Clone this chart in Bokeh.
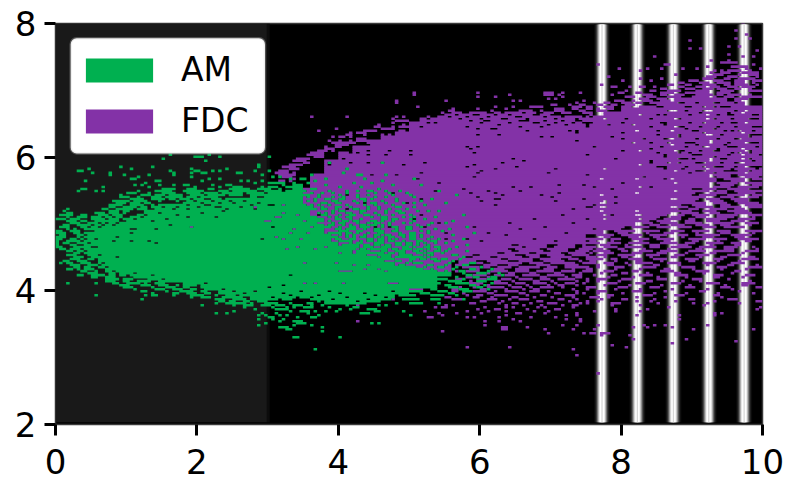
from bokeh.plotting import figure
from bokeh.embed import file_html
from bokeh.resources import INLINE
from bokeh.models import Legend, LegendItem, BoxAnnotation, FixedTicker, Range1d, ColumnDataSource

x_ticks = [0, 2, 4, 6, 8, 10]
y_ticks = [2, 4, 6, 8]
series_names = ["AM", "FDC"]
series_colors = ["#00B050", "#8332A7"]

# histogram bins: x = col * 0.05, y = 2 + row * 0.03
col_w = 0.05
row_h = 0.03

stripe_centers = [7.73, 8.23, 8.74, 9.24, 9.74]
stripe_half = [0.113, 0.099, 0.085, 0.071, 0.057, 0.042, 0.028, 0.009]
stripe_gray = ["#0a0a0a", "#1c1c1c", "#3c3c3c", "#757575", "#b4b4b4", "#ececec", "#ffffff", "#d6d6d6"]

# solid core: column station -> lowest / highest row
am_cols = [8, 10, 12, 14, 17, 20, 22, 25, 27, 31, 36, 41, 46, 50, 55, 60, 63, 65, 67, 68, 70, 72, 74, 76, 78, 80, 84, 88, 92, 96, 100, 104, 108]
am_low = [85, 83, 80, 78, 75, 74, 73, 73, 73, 71, 69, 67, 64, 64, 62, 62, 62, 62, 63, 63, 63, 62, 61, 60, 60, 60, 60, 61, 62, 64, 66, 68, 74]
am_high = [95, 97, 98, 101, 103, 103, 104, 106, 109, 109, 112, 113, 112, 112, 114, 115, 115, 116, 118, 119, 108, 103, 99, 94, 90, 88, 85, 82, 80, 78, 77, 76, 75]
fdc_cols = [66, 68, 72, 76, 80, 84, 88, 92, 96, 100, 104, 108, 112, 116, 120, 130, 140, 150, 155, 160, 165, 170, 175, 180, 185, 190, 195]
fdc_low = [75, 70, 70, 70, 70, 70, 70, 70, 70, 70, 72, 76, 82, 90, 90, 90, 90, 95, 97, 100, 103, 106, 110, 118, 125, 125, 125]
fdc_high = [110, 117, 124, 131, 135, 138, 141, 144, 146, 149, 151, 153, 154, 154, 154, 154, 153, 153, 155, 157, 158, 160, 162, 165, 162, 160, 158]

# scattered cells of each series, by row: "col col first-last"
am_strays = {
    134: "32 43", 133: "39-41 46 60", 132: "30", 131: "42", 129: "57", 128: "18 27 57", 127: "9 21 38 48",
    126: "6-7 32 39-40 44 46 56 60", 125: "10 15 33 38 41-42 51-52", 124: "15 19 26 33 58", 123: "23 38 61 63",
    122: "21-22 43 46 66", 121: "8 28-29 41 52 54 58", 120: "25 56 60-64 67", 119: "22 24 29 33 36 37 44 48-49 64",
    118: "13 26 39 46 50-52 58 60-62 65", 117: "7-8 30-33 37-39 43-44 49-54 57-60 63", 116: "6 11 13 23 28-32 36-41 46-48 50-56 59-63",
    115: "20-22 26 30-33 37-40 42-45 47-52 54-58 61", 114: "18 24-26 28-30 32-35 38-41 43-47 49-52", 113: "18-20 23 27-29 31-35 37-39",
    112: "21-24 27-30 32-33 35", 111: "16-20 22-25 29 34", 110: "17-19 21-23 25-26", 109: "15-18 21-24", 108: "15-16 19-22 24-25",
    107: "3 13-14 17-21 23-25", 106: "2 15-17 19-20", 105: "3-4 11-13 15-17 19", 104: "1-4 7-8 12-14 16-18",
    103: "3 6-8 10-12 14-15", 102: "0-2 4-6 10-13 15-16", 101: "3-5 7-8 11-13 16", 100: "4-6 9-11 13-15", 99: "2-3 6-9 11-12", 98: "1-3 7-8 10-11",
    97: "3 5 8-9 11-12", 96: "0-1 4-6", 95: "0-2 5-6", 94: "1-2 6-7", 93: "0-2 6", 92: "0-1 4-5 7", 91: "0 3-6", 90: "0 2-3 6-7",
    89: "0 4-5", 88: "0-1 5-7", 87: "1-2 4-6", 86: "3-4 6-7", 85: "5-6 8-10", 84: "3-5 9-13", 83: "5-7 10-12",
    82: "4-6 9-10", 81: "2-3 6-8 12", 80: "1 3-4 7-9", 79: "4-6 9-11 13-16", 78: "5-6 8-9 12-15",
    77: "3-4 6 8-10 14-16", 76: "7-8 11 14-16", 75: "9-11 15-16", 74: "6-7 10-13 15-16 18-19", 73: "10-11 14-16",
    72: "14-17 19-21 26-30", 71: "14-16 19-20 23-26 29-32", 70: "3 11 16-17 20-23 25 28-30 36-38",
    69: "18-20 24-26 29-31 34-37 40", 68: "19-21 27 31-33 36-38 42-44", 67: "22 28-30 33-35 38-39 42-45",
    66: "24-25 31 35-38 41-43 46-49", 65: "27 33-34 37-39 42-43 47-51 53", 64: "11 25 27-28 33 38-41 45-46 49-54",
    63: "38 41-43 47-52 55-59", 62: "24 45-47 50-53 56-61", 61: "46-47 49-50 53-54 57-59", 60: "45 48-53 55 59-62 66 71-72 79 85-87 96",
    59: "41 50 53-55 58-60 62-64 67-69 72 75 82 91 93", 58: "53 61 65 67 70-72 77 84-85", 57: "56 62-65 80 83 88-90", 56: "50 66 69-71 73 76 79 90-91 98",
    55: "45 48 58 62 71 86-88", 54: "57 59 63 65 74 100", 53: "60-61 68 72-73", 52: "57 61 64", 51: "63 67-69",
    50: "59 68-70 89 91", 49: "57 67 72", 48: "63-65 75", 47: "65 66", 46: "75", 43: "67-68 80", 37: "73",
}
fdc_strays = {
    200: "194", 196: "192", 194: "195", 192: "192 196", 191: "179", 188: "190 193", 187: "179 182", 186: "198",
    184: "190", 183: "169 194 197", 181: "185 190", 180: "188-192", 179: "153 172-173 197", 178: "184 191-195",
    177: "159 167 171 177 181 195 199", 176: "165 186 188 190-193 196", 175: "185 188-190 194-198", 174: "175 186-188 193 196-198",
    173: "156 184-186 190-192 198", 172: "165 171 183-185 189-190 193-197", 171: "160 168 179-181 186-188 192-194 197-199",
    170: "176-177 182-184 187-190 192-194 197", 169: "154 173-174 178-179 183-186 189-190 192-195 198", 168: "157-158 162 165-166 169 176-177 181-183 185-187 190-192 194-197",
    167: "171-172 178-180 183-185 187-189 192-193 196", 166: "161 168-169 173-176 181-184 188-191 196-199", 165: "101 119 138-140 143 148 159-160 164-165 171-174 178-180 183-184 187-190",
    164: "101 128 138-140 142 157 166-168 171-172 175-177 183-185 187-188 190-193 196", 163: "119 124 143 161-163 167-169 173-176 186 189-191 194-199",
    162: "139 141 165-167 170-172 175-176 179-180 188-189 192-195", 161: "96 110 129 131 149 158-160 163 166-168 171-173 187-189 192-193",
    160: "96 147 152 155-156 160-162 164-165 168-169 171-172 174",
    159: "140-141 145 148-149 153-154 157-158 161-163", 158: "102 124 129 134-137 146-148 150-151 155-157 160-162", 157: "112 119 127 141-143 146-147 150-151 153 156-157",
    156: "111-112 123 131-134 137 141-143 148-149 153-155", 155: "109 112-114 117-121 124-125 127-131 133-135 138-140 143-145 149-151",
    154: "110-111 151", 153: "72 82 96 98 105 109-111",
    152: "95 103-104 106-107",151: "96-99 103", 150: "95 100-103", 149: "91 98", 148: "90-91 95 97-99", 147: "79 92 93-95",
    146: "74 87-90", 145: "83 85-87", 144: "87 82-83", 143: "78 83 80-81", 142: "85-87", 141: "77 80 83 85-87", 140: "78-84",
    139: "79-82", 138: "76 79-80", 137: "76 77-78", 136: "78 74-76", 135: "72-75", 134: "71-74 75", 133: "73-75", 132: "68-71",
    131: "67-70", 130: "70-71", 129: "66-69", 128: "64-67", 127: "66-68", 126: "63-65", 125: "62-65 67", 124: "63-67 186-190 193-199", 123: "64-66 187-190 195-198",
    122: "66-67 181-186 189-194 197-199", 121: "63-64 66 183-186 191-194", 120: "178-184 187-192 195-199", 119: "178-182 188-191 197-199", 118: "176-183 186-190 193-198",
    117: "174-178 183-186 190-195", 116: "172-176 180-184 187-189 192-199", 115: "176-180 185-189 193-197", 114: "175-179 182-186 190-194 197-199", 113: "172-175 179-183 188-191 196-198",
    112: "170-173 177-181 184-187 191-195", 111: "170-172 177-180 185-188 192-195",
    110: "173-176 179-183 186-189 193-198", 109: "174-176 180-183 188-190 195-199", 108: "176-178 181-185 188-193 196-199", 107: "172-175 179-181 185-189 192-194", 106: "174-179 183-186 190-195",
    105: "170-173 177-181 185-187 192-196", 104: "168-172 175-177 180-184 187-192 196-199", 103: "167-170 174-176 181-183 187-191 197", 102: "166-169 172-176 179-180 184-189 193-197",
    101: "165-167 170-173 178-180 184-187 191-194", 100: "163-168 171-175 178-182 186-191 195-198", 99: "160-163 168-170 174-177 181-184 188-190 196",
    98: "157-160 163-167 170-173 176-179 183-186 189-194", 96: "158-163 166-170 174-177 180-184 187-190 195-199", 95: "153 159-161 167 172-174 181 188-190 197",
    94: "153-157 160-165 168-172 176-178 181-187 191-196", 93: "155-156 162-164 169-170 177 183-185 192-194", 92: "150-154 157-159 163-167 170-174 179-183 186-189 193-198",
    91: "151-152 157 165 172-173 180-181 187 195-196",
    90: "114-132 134-140 143-147 150-153 156-159 162-167 171-175 178-180 184-188 191-193", 89: "113-128 131-138 142-146 149 154-156 161 168-170 176-178 185 192-193", 88: "113-131 133-138 141-146 149-152 155-158 161-165 168-170 174-179 182-186 189-192 197",
    87: "115-127 130-136 139-144 148-151 153-154 159-160 166 173 181-182 189-191 198", 86: "114-128 131-137 140-144 147-150 152-156 160-161 165-168 171-175 179-183 186-191 195-198", 85: "112-124 127-133 136-142 145-149 151 155-157 163-165 170-172 178 185-186 194",
    84: "112-117 120-129 133-136 139-143 146-150 153-155 159-163 167-170 175-177 181-184 190-193", 83: "111-115 118-122 125-131 134-136 140-145 150-152 155 160-161 168 174-175 182 188-189 196-197",
    82: "112-113 116-125 128-134 137-142 145-147 150-154 157-158 162-165 169-172 178-181 186-188 194-198", 81: "114-118 122-127 131-134 138-143 148 151-152 158 164-165 171 179-180 187 193",
    80: "114-120 123-131 134-137 140-146 149-152 155-157 161 164-168 173-176 183-186 191-194", 79: "113-116 121-124 128-130 136-139 144-147 153 156-157 162 169-170 176 184 190-191 198",
    78: "115-122 125-128 131-136 139-141 144-150 153 158-160 166-169 177-180 187-189 196-199", 77: "112 117-119 124-126 130-133 138-140 146 150-151 158 165 172-173 180 188 195",
    76: "113 116-119 122-127 130-133 136-140 143-146 149-151 155-157 163-164 171-174 181-184 192-193", 75: "115 120-122 128-129 134-135 141-142 148 154 160-161 167 175-176 183 191",
    74: "118-121 124-129 132-136 139-143 146-148 152 157-158 165-168 175-178 186-188 195-197", 73: "116-117 122-124 130 137-138 144 147-148 156 163 170 178 186-187 194",
    72: "113-115 119-123 126-128 131-134 137-139 142-146 150 153-155 160-162 170-172 180-182 190",
    71: "112 117 124-125 129 135-136 140 147 150 153 159 167-168 177 182 196", 70: "116-120 124-127 130-132 135-138 141 144-146 149 156-158 164-166 174-176 184-187 194-197",
    69: "118-119 122 128 133 139 142-143 147 155 162 171 179 189 194-195", 68: "114 118-119 122-126 129-131 134 137-140 143 150-152 159-161 168-170 178-180 188-190 198-199",
    67: "112-113 120-121 127 132 135-136 146 150 158 165 174 184 191", 66: "112-113 117-121 124 127-130 134-136 139 147 153-155 163-165 172 182-183 193",
    65: "115 122-123 131-132 141-142 147 149 153 160 169 178 187 197", 64: "116 119-120 125-127 133 137-138 144-146 156-157 166-168 175-177 186-187",
    63: "110-111 118 123 129-130 135 140 146 151-153 156 164 172 188", 62: "112-114 122-124 128 131-133 142-143 147 154 160-161 169 179-180 190-192",
    61: "120-121 126 136-137 145 150 153 164 168 175 186 198-199", 60: "117-118 125 129-130 134 139-141 148 150 157-159 170 180 184 193",
    59: "112 127 132 137 143 146-147 157 165 183", 58: "110 127 129 121 136 138 146 173 199", 57: "119 124-125 133 141-142 158 167 198",
    56: "116 122 127 135 139 152 158 165", 55: "108 113 120 130-131 138 147 188 186", 54: "109 127 144 147 164 176 186",
    53: "105-106 116 118 125 134 141", 52: "129 144 148 176", 51: "85 121 125 131 148", 49: "121 143 147 153 166 169 172 184",
    48: "126-127 133 163 167 174", 47: "126-127 138 146 152 180 197", 46: "109", 45: "139 149 151-152 154-156",
    44: "154 162", 42: "163 178", 41: "192", 40: "174", 39: "157", 38: "116 128 161", 37: "146", 34: "147", 25: "153",
}
# cells of the overlap where one series shows through the other
am_over = {
    130: "77 92", 127: "82", 125: "81", 124: "72 85-86 93", 122: "69-70 76 87 101", 121: "73 92", 120: "71 84 89", 119: "67 76 95 103",
    118: "66-69 80 86", 117: "72-73 91", 116: "68 70 77 82 85 88-89 93 97 108", 115: "69 72 75 78 82 90 94 99", 114: "70-71 74 80 85 88 95 100 113", 113: "71 74 78 81 85 90 93 101",
    112: "73 76-77 80-81 86-87 89 96 106", 111: "69 71 73 78-79 84 87 92 96 103", 110: "75-76 79-80 85 89-90 93 98 101 110", 109: "70 72 74 77 82 87 90 95 104", 108: "70-72 75 79-80 83 88 91 96-97 101", 107: "72-73 75-76 79 84-85 88 91 94 99",
    106: "71 78 80-81 86-87 93 96-97 102 105 108", 105: "71 74 76 78 82-83 86 90 93 97-98", 104: "69-70 75-76 80 83-84 87-88 91 95 100 115", 103: "71 73 77 79 82-83 89 92-93 98 101 107", 102: "72-75 79-80 83 86 92-93 95-96 100 104", 101: "74-75 77 81-82 84-85 89-90 92 95 101 112",
    100: "71 78 80-81 85 88 90-91 94 98 100 106 110", 99: "74-75 77-78 81 83 86-87 89-90 92 94 102 105", 98: "76-77 80 83-84 86-88 92 95-96 99-100 103 116", 97: "73 75 79-80 82-84 87 90-91 96 99-100 107 111", 96: "74 80-82 85-86 90-92 95-96 103 105 109",
    95: "77-80 82-83 85 88 91-92 97 100-101 105 118", 94: "80 82 84 87 90-91 93-94 97-98 100-101 103 112", 93: "78-79 82 84 86-87 90 92 94-95 98 100-101 103 106", 92: "79-80 83-84 88-89 91-92 94 96 100-101 105 108 115", 91: "80-83 86 88-89 91-92 94-95 98 102-103 106-107 112",
    90: "78 83 85-86 90-92 96-97 99-100 102 104 107 110", 89: "81-85 87-88 90-91 93-94 96-97 99-100 102 105 116", 88: "81-82 84-85 87-89 92-94 98-99 101 104-105 107-108 113", 87: "84 86-87 89-92 93 95-96 98-100 102-103 105 108 111",
    86: "85-88 92-93 96-98 101-102 104 107-108 110 116", 85: "85-90 91-92 94-95 97-98 102-103 105-106 109", 84: "86-87 91-94 97-100 104 106 112-113", 83: "86-89 90 92-94 96-98 99-103 105 115",
    82: "86-87 88-95 100-101 103-104 106-107 109-110 114", 81: "92 96-97 100 107-108 112", 80: "94-95 99 101-103 111 117-118", 79: "90-92 97-98 105-106 110 115-116",
    78: "96-97 100-101 104 108-109 113 120", 77: "99 102-103 106 112 117-118 123", 76: "104-107 110 114-115 122", 75: "101-102 110 115 119-121 125",
    74: "109-111 116-117 126", 73: "113 118-119 123-124", 72: "108-110 115 122-124", 71: "111-114 119-121", 70: "106-108 113-116 123", 69: "110-111 117-118 121",
    68: "104-105 111-113 119-120", 67: "106-107 114-116 122", 66: "101-103 108-110 115-117", 65: "103-105 111-112", 64: "99-101 106-109 113", 62: "98-102 106-108 115", 60: "100-103 108",
}
fdc_over = {
    109: "64", 108: "56", 105: "64", 104: "68", 103: "62-63", 101: "59-60 70", 98: "38 72", 97: "67", 95: "66 71", 93: "62", 92: "64 69",
    88: "68 76", 87: "65 73", 85: "80 84", 80: "70 79", 79: "84 88", 77: "91 87", 76: "80-83 93", 70: "73 81 94-96", 67: "100-103", 64: "124",
    63: "119", 62: "95 112-114", 59: "85 110", 58: "107 109 127 129", 56: "104", 55: "108",
}
# empty cells inside the solid parts
am_holes = {
    113: "57-58", 112: "38 42-43 47", 111: "36 39 44 49 53", 110: "29 33 41 46 50 57", 109: "28 37 42-43 55 60-61",
    108: "30 34 40 45-46 52", 107: "27 33 37 48 56", 106: "47", 105: "23 29 41", 104: "22 25 34", 103: "19-20 24 37 45", 102: "18 22 31",
    101: "18-19 27", 100: "14 17", 99: "13 16 32", 98: "12 61", 97: "21-22 28", 96: "9-10", 95: "21", 94: "8", 93: "17", 92: "8 11 58", 91: "16 21 26",
    90: "9 28", 88: "10-11", 86: "8", 84: "12", 83: "17", 80: "13", 78: "14", 76: "16", 75: "17 22", 74: "20 27 66", 72: "24 30", 70: "34 42 70", 69: "35 40 64",
    68: "38 60", 67: "41 47", 66: "43 50 56 69 77 95", 65: "30 44 53 64 80 87", 64: "36 46-47 51 66 74 90 96", 63: "61 68 72 82 93", 62: "63 70 78 88", 61: "65 75 85 92",
}
fdc_holes = {
    164: "180", 160: "176-177 181 186-187 192", 158: "170-171 178-179 183 186 188-190", 156: "173-175 178 183-185 192 195",
    155: "182 190 194", 154: "104 108-109 113 118-119 124 128 135-136 140 145-146 165 170 172 179 184 187 190-191 197-198", 153: "106 111 116 122 130-131 138 143 149 151",
    152: "102 114 120 126-127 133 141 147 155 161 168 175-176 184 186 191 196-198",
    151: "117 121-122 131-133 138 143 147-148", 150: "105 107 120 128 135-136 141 146 149-151 160 171-172 179 183 188 191-192 195",
    149: "125 139 144 150 156 163 172", 148: "103 116 131 137 150 168 175-177 182 187 192 197-199", 147: "119 123-124 178 186",
    146: "96 99 133 145 147 164 170 174 180-181 189 191 193 197", 145: "147 160 183 194", 144: "93 95 119 125 170 176 184-185 188 196-199",
    143: "137 140 157 176 196", 142: "90-91 160 166 172-174 181 187 192-193", 141: "147 185", 140: "163 168 173 178-180 185 190 195-198",
    139: "87-88 174 181 189", 138: "116 119 152 171 178 183-184 190-192 198", 137: "117 168 187 194", 136: "94 100 88 83 160 165 175-177 182 186-187 195-196",
    135: "83 85 118 170 176 179 191 193 196", 134: "88 93 100 150 172 180-182 190 194 199", 133: "172 186", 132: "79 81 129 158 176-178 180 185 188-189 194 196",
    131: "132 168 185 197", 130: "83 88 104 126 168 173 176 181-183 188 192-194", 129: "75 77 98 118 165", 128: "116 130 170-172 178 183 186-188 192 195-199",
    127: "124 141 155 172 177 184 191 198", 126: "120 175 181-183 189-192 196", 125: "103 119 139 179 186 195", 124: "96 89 150", 123: "118 166",
    122: "71 101-102 154 164 172 174", 120: "108 160 175", 119: "142 149", 118: "129 134 152 165 168", 117: "67 69 115 157", 116: "107 122 131 175",
    115: "95 117 124 142 164", 114: "82 85 126 137 154", 113: "119 140 158", 112: "103 106 124-125 149 174-175", 111: "120 141 155", 110: "76 87 99 154-155 158",
    109: "74 124 152", 108: "150-151 154-155 174-175", 107: "82 146", 106: "154 164", 104: "74 103 143 155 157 164-165 175", 102: "100-101 135 150 155", 100: "108 128 146 164-165", 98: "90 94 104 118 138",
    97: "131 152", 95: "110 122 144", 94: "127", 92: "110 116 135", 91: "120 141",
}


def parse(rows):
    cells = set()
    for r, txt in rows.items():
        for tok in txt.split():
            a, _, b = tok.partition("-")
            for c in range(int(a), int(b or a) + 1):
                if c < 200:
                    cells.add((c, int(r)))
    return cells


def core(cols, low, high, last_col):
    cells = set()
    for i, c0 in enumerate(cols):
        c1 = cols[i + 1] if i + 1 < len(cols) else last_col
        for c in range(c0, c1):
            for r in range(low[i], high[i] + 1):
                cells.add((c, r))
    return cells


am_set = (core(am_cols, am_low, am_high, 112) | parse(am_strays)) - parse(am_holes)
fdc_set = (core(fdc_cols, fdc_low, fdc_high, 200) | parse(fdc_strays)) - parse(fdc_holes)
am_only = (am_set | parse(am_over)) - parse(fdc_over)
fdc_only = ((fdc_set - am_set) | parse(fdc_over)) - am_only


def runs(cells):
    L, R, B, T = [], [], [], []
    by_row = {}
    for c, r in cells:
        by_row.setdefault(r, []).append(c)
    for r, cs in by_row.items():
        cs.sort()
        start = prev = cs[0]
        for c in cs[1:] + [None]:
            if c is None or c != prev + 1:
                L.append(start * col_w)
                R.append((prev + 1) * col_w)
                B.append(2 + r * row_h - 0.004)
                T.append(2 + (r + 1) * row_h + 0.004)
                start = c
            prev = c
    return dict(left=L, right=R, bottom=B, top=T)


p = figure(width=785, height=482, x_range=Range1d(0, 10), y_range=Range1d(2, 8),
           output_backend="svg", toolbar_location=None,
           min_border_left=55, min_border_right=23, min_border_top=23, min_border_bottom=58,
           background_fill_color="#000000", border_fill_color="#ffffff")
p.grid.visible = False
p.outline_line_color = "#3a3a3a"
p.outline_line_width = 1.5

p.quad(left=[0], right=[2.99], bottom=[2.035], top=[8], fill_color="#191919", line_color=None)
p.quad(left=[2.99], right=[3.03], bottom=[2.035], top=[8], fill_color="#0c0c0c", line_color=None)
for hw, g in zip(stripe_half, stripe_gray):
    p.quad(left=[c - hw for c in stripe_centers], right=[c + hw for c in stripe_centers],
           bottom=2.035, top=7.985, fill_color=g, line_color=None)

r_fdc = p.quad(source=ColumnDataSource(runs(fdc_only)), left="left", right="right", bottom="bottom", top="top",
               fill_color=series_colors[1], line_color=None)
r_am = p.quad(source=ColumnDataSource(runs(am_only)), left="left", right="right", bottom="bottom", top="top",
              fill_color=series_colors[0], line_color=None)

p.xaxis.ticker = FixedTicker(ticks=x_ticks)
p.yaxis.ticker = FixedTicker(ticks=y_ticks)
for ax in (p.xaxis[0], p.yaxis[0]):
    ax.major_label_text_font = "DejaVu Sans"
    ax.major_label_text_font_size = "34px"
    ax.major_label_text_color = "#000000"
    ax.major_tick_out = 11
    ax.major_tick_in = 0
    ax.major_tick_line_width = 3
    ax.major_tick_line_color = "#000000"
    ax.minor_tick_line_color = None
    ax.axis_line_color = None
p.xaxis[0].major_label_standoff = 13
p.yaxis[0].major_label_standoff = 8
p.yaxis.major_label_orientation = "horizontal"

box = BoxAnnotation(left=0.215, right=2.963, top=7.78, bottom=6.055, fill_color="#ffffff", fill_alpha=1,
                    line_color="#cccccc", line_width=2.5, border_radius=6)
p.add_layout(box)
legend = Legend(items=[LegendItem(label=series_names[0], renderers=[r_am]), LegendItem(label=series_names[1], renderers=[r_fdc])],
                location=(22, 284), orientation="vertical", background_fill_alpha=0, border_line_color=None,
                margin=0, padding=0, glyph_width=84, glyph_height=30, label_height=30, spacing=12, label_standoff=20,
                label_text_font="DejaVu Sans", label_text_font_size="33px", label_text_color="#000000")
p.add_layout(legend)

open("out.html", "w").write(file_html(p, INLINE))
